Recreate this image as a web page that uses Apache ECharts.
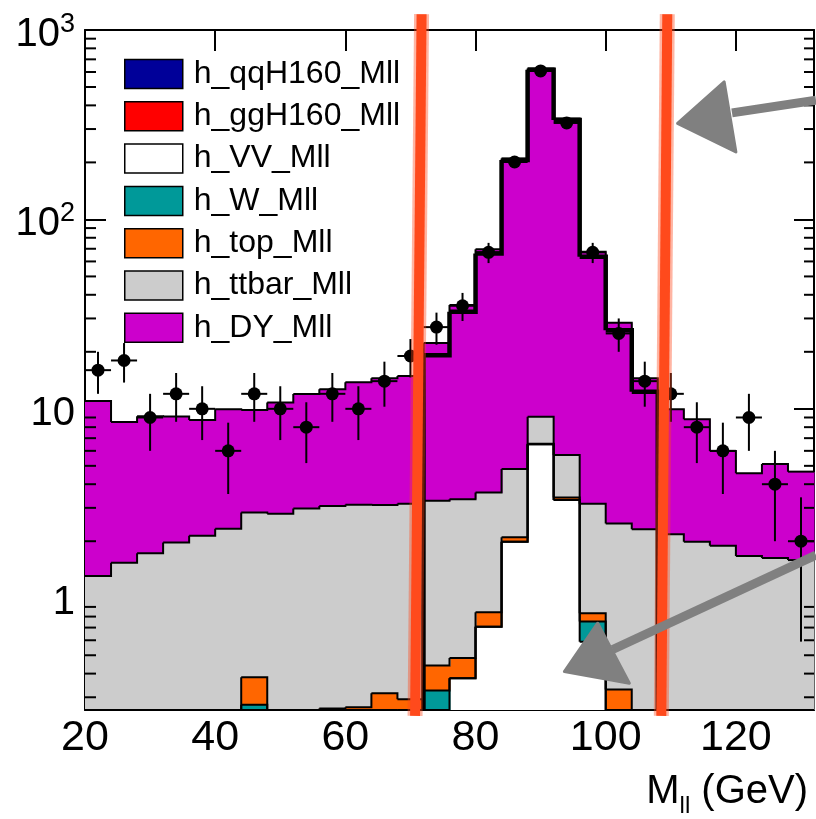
<!DOCTYPE html>
<html>
<head>
<meta charset="utf-8">
<script src="https://cdn.jsdelivr.net/npm/echarts@6/dist/echarts.min.js"></script>
<style>html,body{margin:0;padding:0;background:#fff}#chart{width:816px;height:819px}</style>
</head>
<body>
<div id="chart"></div>
<script>
// ---------- data ----------
const binLow = [20,24,28,32,36,40,44,48,52,56,60,64,68,72,76,80,84,88,92,96,100,104,108,112,116,120,124,128];
const BIN_W = 4;
const hVV    = [0,0,0,0,0,0,0,0,0,0,0,0,0,0.10,0.378,0.708,1.99,6.50,3.30,0.59,0.12,0,0,0,0,0,0,0];
const hW     = [0,0,0,0,0,0,0.274,0,0,0,0,0,0,0.226,0,0,0,0,0,0.163,0,0,0,0,0,0,0,0];
const hTop   = [0,0,0,0,0,0,0.109,0,0,0.262,0.266,0.315,0.293,0.115,0.105,0.136,0.11,0.04,0.10,0.08,0.21,0,0,0,0,0,0,0];
const hTtbar = [1.31,1.54,1.73,1.97,2.14,2.33,2.45,2.79,2.98,2.81,2.85,2.79,2.86,2.83,2.85,2.77,2.71,2.54,2.30,2.32,2.15,2.31,2.18,1.99,1.89,1.67,1.63,1.59];
const hDY    = [9.69,6.98,7.40,7.13,6.59,7.61,7.03,8.01,8.99,9.63,10.68,11.4,11.75,19.0,32.0,65.9,205,617,335,64.4,26.0,12.2,7.76,6.81,4.10,2.90,3.48,3.07];
const hggH   = [0,0,0,0,0,0,0,0,0,0,0,0,0,0,0,0,0,0,0,0,0,0,0,0,0,0,0,0];
const hqqH   = [0,0,0,0,0,0,0,0,0,0,0,0,0,0,0,0,0,0,0,0,0,0,0,0,0,0,0,0];
// data points and their errors
const obs    = [16,18,9,12,10,6,12,10,8,12,10,14,19,27,35,67,201,608,323,67,25,14,12,8,6,9,4,2];
const obsErr = [4.0,4.24,3.0,3.46,3.16,2.45,3.46,3.16,2.83,3.46,3.16,3.74,4.36,5.20,5.92,8.19,14.2,24.7,18.0,8.19,5.0,3.74,3.46,2.83,2.45,3.0,2.0,1.41];
// thick black histogram in the Z window
const winLow = [72,76,80,84,88,92,96,100,104];
const winVal = [19.2,32.5,66.1,206,617,335,63.5,26.0,12.3];
// axis ticks / labels
const xTickLabels = [20,40,60,80,100,120];
const yMajor = [1,10,100,1000];
// hand-drawn annotations (data coordinates)
const cutLeft  = [[71.71,1212],[70.71,0.2393]];
const cutRight = [[109.46,1212],[108.54,0.2393]];
const arrowUpShaft = [[132.3,426],[119.4,365]];
const arrowUpHead  = [[111.04,321],[118.2,532],[120.0,227]];
const arrowLoShaft = [[132.3,1.69],[101.07,0.536]];
const arrowLoHead  = [[93.65,0.410],[98.77,0.738],[103.63,0.356]];

// ---------- setup ----------
const XMIN = 20, XMAX = 132, YMIN = 0.257, YMAX = 1000;
const FONT = 'Liberation Sans, Arial, Helvetica, sans-serif';
const clampY = v => Math.max(v, YMIN);

const layers = [
  {name:'h_VV_Mll', vals:hVV, color:'#ffffff'},
  {name:'h_W_Mll', vals:hW, color:'#009999'},
  {name:'h_top_Mll', vals:hTop, color:'#ff6600'},
  {name:'h_ttbar_Mll', vals:hTtbar, color:'#cccccc'},
  {name:'h_DY_Mll', vals:hDY, color:'#cc00cc'},
  {name:'h_ggH160_Mll', vals:hggH, color:'#ff0000'},
  {name:'h_qqH160_Mll', vals:hqqH, color:'#000099'}
];
let running = binLow.map(() => 0);
layers.forEach(L => {
  L.base = running.slice();
  running = running.map((r, i) => r + L.vals[i]);
  L.top = running.slice();
});

const series = [];
// fills
layers.forEach(L => {
  series.push({
    type:'custom', name:L.name, silent:true, z:1,
    itemStyle:{color:L.color, borderColor:'#000', borderWidth:1},
    encode:{x:[0,1], y:[2,3]},
    data: binLow.map((x,i) => [x, x+BIN_W, clampY(L.base[i]), clampY(L.top[i])]),
    renderItem:(params, api) => {
      const x0 = api.value(0), x1 = api.value(1), b = api.value(2), t = api.value(3);
      if (!(t > b)) return null;
      const p0 = api.coord([x0, t]), p1 = api.coord([x1, b]);
      const rx = Math.round(p0[0]), ry = Math.round(p0[1]);
      const rw = Math.round(p1[0]) - rx + 0.5, rh = Math.round(p1[1]) - ry;
      return {type:'rect', shape:{x:rx, y:ry, width:rw, height:rh},
              style:{fill:L.color, stroke:null}};
    }
  });
});
// outlines (step histogram of each cumulative layer)
layers.slice(0,5).forEach(L => {
  const n = binLow.length;
  series.push({
    type:'custom', silent:true, z:2,
    encode:{x:[0,1], y:[2,3]},
    data: binLow.map((x,i) => [x, x+BIN_W, clampY(L.top[i]), clampY(i < n-1 ? L.top[i+1] : YMIN)]),
    renderItem:(params, api) => {
      const x0 = api.value(0), x1 = api.value(1), t = api.value(2), tn = api.value(3);
      const pts = [api.coord([x0,t]), api.coord([x1,t])];
      if (params.dataIndex < n-1) pts.push(api.coord([x1,tn]));
      return {type:'polyline', shape:{points:pts}, style:{stroke:'#000', lineWidth:2, fill:null}};
    }
  });
});
// thick black Z-window histogram
series.push({
  type:'custom', silent:true, z:3,
  encode:{x:0, y:1},
  data: winLow.map((x,i) => [x, winVal[i], i < winLow.length-1 ? winVal[i+1] : YMIN]),
  renderItem:(params, api) => {
    const x0 = api.value(0), x1 = x0 + BIN_W, v = api.value(1), vn = api.value(2);
    const pts = [];
    if (params.dataIndex === 0) pts.push(api.coord([x0, YMIN]));
    pts.push(api.coord([x0, v]), api.coord([x1, v]), api.coord([x1, vn]));
    return {type:'polyline', shape:{points:pts}, style:{stroke:'#000', lineWidth:4.5, fill:null, lineJoin:'miter'}};
  }
});
// error bars
series.push({
  type:'custom', silent:true, z:4,
  encode:{x:0, y:1},
  data: binLow.map((x,i) => [x + BIN_W/2, obs[i], obsErr[i]]),
  renderItem:(params, api) => {
    const xc = api.value(0), v = api.value(1), e = api.value(2);
    const lo = api.coord([xc, clampY(v - e)]), hi = api.coord([xc, v + e]);
    const l = api.coord([xc - BIN_W/2, v]), r = api.coord([xc + BIN_W/2, v]);
    return {type:'group', children:[
      {type:'line', shape:{x1:lo[0], y1:lo[1], x2:hi[0], y2:hi[1]}, style:{stroke:'#000', lineWidth:2}},
      {type:'line', shape:{x1:l[0], y1:l[1], x2:r[0], y2:r[1]}, style:{stroke:'#000', lineWidth:2}}
    ]};
  }
});
// data markers
series.push({
  type:'scatter', silent:true, z:5, symbol:'circle', symbolSize:13,
  itemStyle:{color:'#000', opacity:1},
  data: binLow.map((x,i) => [x + BIN_W/2, obs[i]])
});
// minor log ticks on both sides
const minorTicks = [];
[0.1,1,10,100].forEach(d => { for (let m = 2; m <= 9; m++) { const v = m*d; if (v > YMIN && v < YMAX) minorTicks.push(v); } });
series.push({
  type:'custom', silent:true, z:6,
  encode:{x:0, y:1},
  data: minorTicks.map(v => [XMIN, v]),
  renderItem:(params, api) => {
    const v = api.value(1);
    const pl = api.coord([XMIN, v]), pr = api.coord([XMAX, v]);
    return {type:'group', children:[
      {type:'line', shape:{x1:pl[0], y1:pl[1], x2:pl[0]+11, y2:pl[1]}, style:{stroke:'#000', lineWidth:2}},
      {type:'line', shape:{x1:pr[0]-10, y1:pr[1], x2:pr[0], y2:pr[1]}, style:{stroke:'#000', lineWidth:2}}
    ]};
  }
});
// hand-drawn annotations
series.push({
  type:'custom', silent:true, z:20, clip:false,
  encode:{x:0, y:1},
  data: [[XMIN, 1]],
  renderItem:(params, api) => {
    const c = p => api.coord(p);
    const redLine = pts => [
      {type:'polyline', shape:{points:pts.map(c)}, style:{stroke:'rgba(255,70,25,0.4)', lineWidth:15, fill:null}},
      {type:'polyline', shape:{points:pts.map(c)}, style:{stroke:'#ff4a1c', lineWidth:10, fill:null}}
    ];
    const grey = '#808080';
    return {type:'group', children:[
      ...redLine(cutLeft), ...redLine(cutRight),
      {type:'polyline', shape:{points:arrowUpShaft.map(c)}, style:{stroke:grey, lineWidth:9, fill:null}},
      {type:'polygon', shape:{points:arrowUpHead.map(c)}, style:{fill:grey, stroke:grey, lineWidth:3, lineJoin:'round'}},
      {type:'polyline', shape:{points:arrowLoShaft.map(c)}, style:{stroke:grey, lineWidth:9, fill:null}},
      {type:'polygon', shape:{points:arrowLoHead.map(c)}, style:{fill:grey, stroke:grey, lineWidth:3, lineJoin:'round'}}
    ]};
  }
});

const axisLineStyle = {show:true, onZero:false, lineStyle:{color:'#000', width:2}};
const yLabelFormatter = v => {
  const lg = Math.log10(v), e = Math.round(lg);
  if (Math.abs(lg - e) > 1e-6 || yMajor.indexOf(Math.pow(10, e)) < 0) return '';
  if (e === 0) return '{n|1}';
  if (e === 1) return '{n|10}';
  return '{n|10}{s|' + e + '}';
};

const option = {
  animation:false,
  backgroundColor:'#fff',
  textStyle:{fontFamily:FONT},
  grid:{left:85, top:30, right:2, bottom:109, containLabel:false},
  legend:{
    orient:'vertical', left:119, top:53, itemWidth:58, itemHeight:29, itemGap:10.3,
    selectedMode:false, icon:'rect',
    textStyle:{fontSize:32, lineHeight:29, color:'#000', fontFamily:FONT, padding:[0,0,0,6]},
    data:['h_qqH160_Mll','h_ggH160_Mll','h_VV_Mll','h_W_Mll','h_top_Mll','h_ttbar_Mll','h_DY_Mll'].map(n => {
      const L = layers.find(l => l.name === n);
      return {name:n, icon:'rect', itemStyle:{color:L.color, borderColor:'#000', borderWidth:1.5}};
    })
  },
  xAxis:[{
    type:'value', min:XMIN, max:XMAX, interval:20, position:'bottom',
    axisLine:axisLineStyle,
    axisTick:{show:true, inside:true, length:21, lineStyle:{color:'#000', width:2}},
    axisLabel:{show:true, fontSize:43, color:'#000', fontFamily:FONT, margin:7, showMaxLabel:false,
      formatter: v => xTickLabels.indexOf(v) >= 0 ? String(v) : ''},
    splitLine:{show:false},
    name:'{m|M}{s|ll}{m| (GeV)}', nameLocation:'end', nameGap:-6,
    nameTextStyle:{align:'right', verticalAlign:'top', padding:[56,0,0,0],
      rich:{m:{fontSize:40, lineHeight:52, color:'#000', fontFamily:FONT},
            s:{fontSize:24, lineHeight:23, verticalAlign:'bottom', color:'#000', fontFamily:FONT}}}
  },{
    type:'value', min:XMIN, max:XMAX, interval:20, position:'top',
    axisLine:axisLineStyle,
    axisTick:{show:true, inside:true, length:21, lineStyle:{color:'#000', width:2}},
    axisLabel:{show:false}, splitLine:{show:false}
  }],
  yAxis:[{
    type:'log', logBase:10, min:YMIN, max:YMAX, position:'left',
    axisLine:axisLineStyle,
    axisTick:{show:true, inside:true, length:21, lineStyle:{color:'#000', width:2}},
    axisLabel:{show:true, margin:10, formatter:yLabelFormatter, color:'#000', padding:[10,0,0,0],
      rich:{n:{fontSize:40, lineHeight:48, color:'#000', fontFamily:FONT},
            s:{fontSize:27, lineHeight:25, verticalAlign:'top', color:'#000', fontFamily:FONT}}},
    splitLine:{show:false}, minorTick:{show:false}
  },{
    type:'log', logBase:10, min:YMIN, max:YMAX, position:'right',
    axisLine:axisLineStyle,
    axisTick:{show:true, inside:true, length:20, lineStyle:{color:'#000', width:2}},
    axisLabel:{show:false}, splitLine:{show:false}
  }],
  series: series
};

const chart = echarts.init(document.getElementById('chart'), null, {renderer:'canvas'});
chart.setOption(option);
</script>
</body>
</html>
